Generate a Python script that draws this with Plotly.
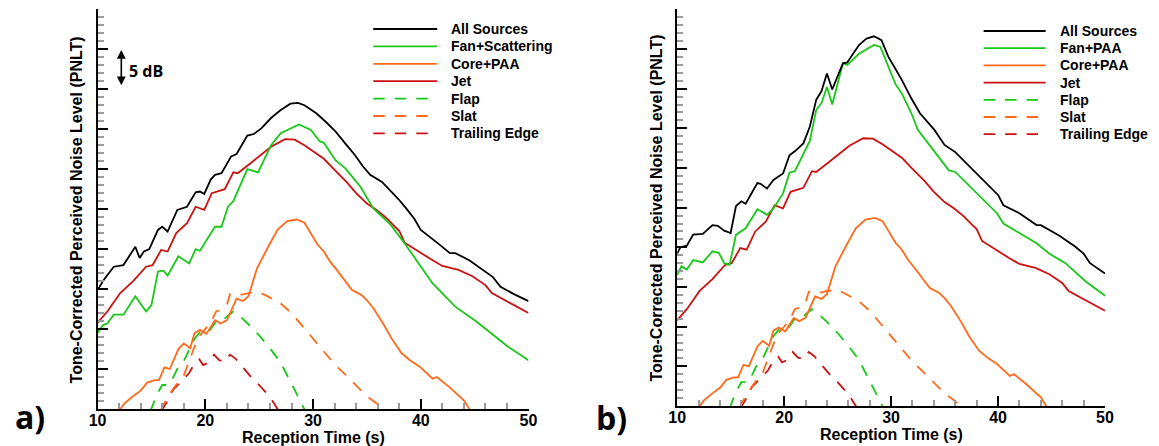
import plotly.graph_objects as go

W, H = 1159, 446

# ---------------- data (reception time [s], PNLT relative [dB]) ----------------
# Panel a) and b) shared components
t_jet = [10.0, 10.9, 12.1, 13.3, 14.5, 15.1, 15.9, 16.5, 17.3, 18.3, 19.1, 19.9, 20.6, 21.8, 22.6, 23.0, 24.2, 25.2, 26.1, 27.4,
         28.3, 29.2, 30.1, 31.0, 32.0, 33.1, 34.0, 35.0, 35.9, 36.8, 37.6, 38.0, 38.5, 40.0, 41.1, 42.0, 43.5, 44.8, 46.0, 46.6,
         48.3, 50.0]
pn_jet = [10.8, 12.2, 14.5, 16.0, 17.8, 18.0, 19.9, 19.7, 22.0, 23.25, 25.3, 24.9, 27.0, 27.5, 29.6, 29.5, 30.75, 31.8, 32.8, 33.75,
          33.7, 33.0, 32.2, 31.3, 29.9, 28.4, 27.0, 25.7, 24.9, 23.9, 22.8, 22.3, 20.8, 19.5, 18.6, 17.9, 17.4, 16.6, 15.5, 14.5,
          13.3, 12.0]

t_core = [12.0, 12.5, 13.2, 14.0, 14.6, 15.3, 15.7, 16.2, 16.7, 17.5, 18.0, 18.6, 19.0, 19.5, 20.1, 20.9, 21.4, 22.0, 22.9, 23.5,
          24.0, 24.8, 25.8, 26.7, 27.6, 28.5, 29.2, 30.4, 31.0, 31.6, 32.2, 33.0, 33.6, 34.5, 35.0, 35.6, 36.5, 37.3, 38.2, 39.0,
          39.9, 41.1, 41.5, 42.6, 44.0, 44.6]
pn_core = [-0.2, 0.7, 1.5, 2.3, 3.3, 3.6, 3.6, 5.2, 5.0, 7.5, 8.2, 7.6, 9.5, 9.9, 9.4, 11.1, 10.7, 11.1, 13.8, 13.5,
           14.1, 17.6, 20.2, 22.4, 23.5, 23.7, 23.3, 20.6, 19.7, 18.4, 17.4, 16.0, 14.9, 14.25, 13.6, 12.6, 10.7, 8.8, 7.0, 6.1,
           5.3, 3.8, 4.0, 2.8, 1.1, -0.2]

t_flap = [14.9, 15.5, 16.0, 16.6, 17.0, 17.5, 18.0, 18.5, 19.0, 19.5, 20.0, 20.5, 21.0, 21.5, 22.0, 22.6, 23.2, 24.0, 25.0, 26.0,
          27.0, 28.0, 28.5, 29.3]
pn_flap = [-0.3, 1.8, 3.0, 3.0, 3.9, 5.3, 6.0, 7.5, 8.8, 9.6, 9.4, 10.0, 11.0, 11.0, 11.5, 12.2, 11.6, 10.6, 9.2, 7.6,
           5.8, 3.2, 1.8, -0.3]

t_slat = [15.8, 16.3, 17.0, 17.5, 18.0, 18.5, 19.0, 19.5, 20.0, 20.5, 21.0, 21.5, 22.0, 22.3, 22.8, 23.4, 24.0, 24.8, 25.5, 26.2,
          27.0, 28.0, 29.0, 30.0, 31.0, 32.0, 33.0, 34.0, 35.0, 36.0, 36.6]
pn_slat = [-0.3, 1.0, 2.5, 3.3, 4.2, 6.0, 7.8, 9.2, 10.0, 10.8, 12.2, 12.4, 13.0, 14.4, 14.5, 14.3, 14.5, 14.6, 14.3, 13.8,
           13.2, 12.0, 10.4, 8.8, 7.1, 5.6, 4.3, 3.0, 1.6, 0.6, -0.2]

t_te = [15.9, 16.4, 17.0, 17.5, 18.0, 18.5, 19.0, 19.45, 19.8, 20.3, 20.8, 21.3, 21.8, 22.3, 22.8, 23.5, 24.0, 24.5, 25.0, 25.5,
        26.0, 26.8]
pn_te = [-0.3, 0.8, 2.4, 3.1, 3.8, 4.5, 5.7, 6.2, 5.5, 5.8, 6.8, 6.1, 5.9, 6.8, 6.3, 5.2, 4.4, 3.6, 3.0, 2.3,
         1.5, -0.2]

# Panel a) specific
t_all_a = [10.0, 10.6, 11.5, 12.4, 13.5, 13.9, 14.3, 14.8, 15.6, 16.0, 16.5, 17.4, 18.3, 19.1, 19.5, 19.9, 20.5, 20.9, 21.5, 22.4,
           22.9, 23.3, 23.9, 24.5, 25.2, 26.1, 27.0, 27.9, 28.6, 29.2, 30.3, 31.2, 32.1, 33.0, 33.9, 34.6, 35.3, 36.4, 37.1, 37.9,
           38.7, 39.4, 40.0, 40.9, 41.8, 42.7, 43.2, 44.5, 45.6, 46.7, 47.4, 48.6, 50.0]
pn_all_a = [14.9, 16.2, 17.8, 18.0, 20.3, 18.9, 19.7, 20.0, 22.4, 22.8, 22.2, 24.9, 25.3, 27.1, 27.2, 26.9, 28.7, 29.3, 29.5, 31.6,
            31.9, 32.8, 34.2, 34.4, 35.1, 36.4, 37.4, 38.2, 38.3, 38.0, 37.0, 35.9, 34.7, 33.2, 31.75, 30.4, 29.3, 28.4, 27.4, 26.3,
            25.0, 23.8, 22.4, 21.5, 20.5, 19.5, 19.5, 18.6, 17.6, 16.5, 15.3, 14.4, 13.5]

t_fan_a = [10.0, 10.5, 10.9, 11.5, 12.4, 13.5, 14.5, 15.0, 15.6, 16.1, 16.5, 17.5, 18.5, 19.1, 19.5, 20.2, 20.9, 21.5, 22.1, 22.6,
           23.9, 24.9, 26.1, 27.0, 27.9, 28.7, 29.8, 30.6, 31.0, 32.1, 33.0, 34.4, 35.6, 37.1, 38.3, 39.6, 41.1, 43.2, 45.0, 46.5,
           48.1, 50.0]
pn_fan_a = [9.5, 10.5, 10.7, 11.8, 11.8, 14.1, 12.2, 13.0, 17.2, 17.3, 16.7, 19.1, 18.2, 20.0, 19.8, 21.3, 22.8, 22.8, 25.3, 26.0,
            30.0, 29.6, 33.0, 34.5, 35.1, 35.6, 34.9, 33.5, 33.3, 31.1, 30.1, 27.8, 25.1, 23.2, 21.1, 18.6, 15.7, 12.8, 11.1, 9.5,
            7.8, 6.1]

# Panel b) specific
t_all_b = [10.0, 10.3, 10.9, 11.5, 12.4, 13.3, 13.8, 14.4, 15.0, 15.5, 16.0, 16.4, 17.5, 17.8, 18.4, 19.0, 19.9, 20.5, 21.0, 21.8,
           22.4, 23.0, 23.5, 24.0, 24.5, 25.5, 25.9, 27.0, 27.7, 28.4, 29.1, 29.75, 30.4, 31.0, 31.9, 32.7, 34.05, 35.0, 36.0, 37.4,
           39.0, 40.0, 40.5, 42.0, 43.6, 44.0, 45.7, 47.2, 48.0, 48.6, 50.0]
pn_all_b = [19.2, 20.0, 20.2, 21.6, 21.7, 22.8, 22.7, 22.1, 21.8, 25.2, 25.8, 25.5, 28.1, 28.0, 27.4, 28.5, 29.3, 31.6, 32.1, 33.1,
            35.2, 38.6, 39.7, 41.9, 39.9, 43.2, 43.3, 45.5, 46.3, 46.6, 46.1, 44.0, 42.5, 41.1, 38.75, 36.9, 34.8, 32.9, 32.0, 30.1,
            28.0, 26.6, 25.3, 24.3, 22.8, 22.8, 21.5, 20.1, 19.2, 18.0, 16.7]

t_fan_b = [10.0, 10.4, 10.9, 11.5, 12.4, 13.3, 13.9, 14.4, 14.9, 15.5, 16.4, 17.5, 18.4, 19.0, 19.9, 20.5, 21.0, 22.4, 23.0, 23.5,
           24.0, 24.5, 25.5, 25.9, 27.0, 28.4, 29.0, 29.75, 30.4, 31.0, 31.9, 32.5, 34.05, 35.4, 36.0, 38.0, 39.9, 40.5, 42.0, 43.6,
           44.8, 46.3, 48.2, 50.0]
pn_fan_b = [16.5, 17.6, 17.2, 18.4, 18.1, 19.5, 19.3, 18.0, 17.8, 21.6, 22.4, 24.8, 24.1, 24.9, 26.8, 29.4, 29.6, 33.4, 37.3, 38.2,
            40.2, 38.0, 43.2, 43.0, 44.4, 45.5, 45.25, 42.7, 40.6, 39.4, 36.9, 34.8, 32.0, 29.7, 29.5, 26.8, 24.3, 23.0, 21.8, 20.5,
            19.2, 18.0, 15.7, 13.9]

labels_a = ['All Sources', 'Fan+Scattering', 'Core+PAA', 'Jet', 'Flap', 'Slat', 'Trailing Edge']
labels_b = ['All Sources', 'Fan+PAA', 'Core+PAA', 'Jet', 'Flap', 'Slat', 'Trailing Edge']
x_ticks = [10, 20, 30, 40, 50]

# ---------------- styles ----------------
BLACK, GREEN, ORANGE, RED = '#000000', '#17c817', '#ff6a1a', '#cc1111'
DASH = '11.5px,10px'
LW = 1.8
FONT = 'Liberation Sans, Arial, sans-serif'
ALTFONT = 'Open Sans, Lato, sans-serif'


def fx(p):
    return p / W


def fy(p):
    return 1 - p / H


panels = [
    dict(xa='x', ya='y', labels=labels_a,
         series=[(t_all_a, pn_all_a), (t_fan_a, pn_fan_a), (t_core, pn_core), (t_jet, pn_jet),
                 (t_flap, pn_flap), (t_slat, pn_slat), (t_te, pn_te)],
         leg_x0=370, leg_x1=435, leg_tx=447, leg_y0=29, leg_dy=17.4),
    dict(xa='x2', ya='y2', labels=labels_b,
         series=[(t_all_b, pn_all_b), (t_fan_b, pn_fan_b), (t_core, pn_core), (t_jet, pn_jet),
                 (t_flap, pn_flap), (t_slat, pn_slat), (t_te, pn_te)],
         leg_x0=990, leg_x1=1053, leg_tx=1066, leg_y0=31, leg_dy=17.2),
]
colors = [BLACK, GREEN, ORANGE, RED, GREEN, ORANGE, RED]
dashes = ['solid', 'solid', 'solid', 'solid', DASH, DASH, DASH]
draw_order = [6, 5, 4, 2, 3, 1, 0]

fig = go.Figure()
shapes = []
annotations = []

for p in panels:
    for i in draw_order:
        t, v = p['series'][i]
        fig.add_trace(go.Scatter(
            x=t, y=v, mode='lines', name=p['labels'][i], showlegend=False,
            xaxis=p['xa'], yaxis=p['ya'],
            line=dict(color=colors[i], width=LW, dash=dashes[i]),
            hoverinfo='skip'))
    # legend drawn by hand (long line samples as in the original)
    for i, lab in enumerate(p['labels']):
        yy = p['leg_y0'] + i * p['leg_dy']
        shapes.append(dict(type='line', xref='paper', yref='paper',
                           x0=fx(p['leg_x0']), x1=fx(p['leg_x1']), y0=fy(yy), y1=fy(yy),
                           line=dict(color=colors[i], width=LW, dash=dashes[i])))
        annotations.append(dict(xref='paper', yref='paper', x=fx(p['leg_tx']), y=fy(yy),
                                xanchor='left', yanchor='middle', showarrow=False, text=lab,
                                font=dict(family=FONT, size=14, color='black', weight='bold')))

xcommon = dict(range=[10, 50], showline=True, linecolor='black', linewidth=2,
               ticks='inside', ticklen=10, tickwidth=2, tickcolor='black',
               tickmode='array', tickvals=x_ticks, ticktext=[str(v) for v in x_ticks],
               tickfont=dict(family=FONT, size=16, color='black', weight='bold'),
               ticklabelstandoff=-4,
               minor=dict(tick0=10, dtick=2, ticks='inside', ticklen=6, tickwidth=1.5, tickcolor='#9a9a9a'),
               showgrid=False, zeroline=False, fixedrange=True)
ycommon = dict(range=[0, 50], showline=True, linecolor='black', linewidth=2,
               ticks='inside', ticklen=10, tickwidth=2, tickcolor='black', tick0=0, dtick=5,
               showticklabels=False,
               minor=dict(tick0=0, dtick=1, ticks='inside', ticklen=6, tickwidth=1.5, tickcolor='#9a9a9a'),
               showgrid=False, zeroline=False, fixedrange=True)

# axis titles and panel labels
title_font = dict(family=FONT, size=16, color='black', weight='bold')
annotations += [
    dict(xref='paper', yref='paper', x=fx(309), y=fy(437), text='Reception Time (s)',
         showarrow=False, xanchor='center', yanchor='middle', font=title_font),
    dict(xref='paper', yref='paper', x=fx(896), y=fy(434), text='Reception Time (s)',
         showarrow=False, xanchor='center', yanchor='middle', font=title_font),
    dict(xref='paper', yref='paper', x=fx(68.5), y=fy(210), text='Tone-Corrected Perceived Noise Level (PNLT)',
         showarrow=False, xanchor='center', yanchor='middle', textangle=-90, font=title_font),
    dict(xref='paper', yref='paper', x=fx(656.7), y=fy(208), text='Tone-Corrected Perceived Noise Level (PNLT)',
         showarrow=False, xanchor='center', yanchor='middle', textangle=-90, font=title_font),
    dict(xref='paper', yref='paper', x=fx(21.5), y=fy(416), text='a)', showarrow=False,
         xanchor='center', yanchor='middle', font=dict(family=ALTFONT, size=32, color='black', weight='bold')),
    dict(xref='paper', yref='paper', x=fx(612.5), y=fy(417), text='b)', showarrow=False,
         xanchor='center', yanchor='middle', font=dict(family=ALTFONT, size=32, color='black', weight='bold')),
    # 5 dB scale arrow
    dict(xref='x', yref='y', axref='x', ayref='y', x=12.2, y=44.9, ax=12.2, ay=40.3, text='',
         showarrow=True, arrowhead=2, startarrowhead=2, arrowside='end+start',
         arrowsize=1.1, startarrowsize=1.1, arrowwidth=1.6, arrowcolor='black'),
    dict(xref='paper', yref='paper', x=fx(139), y=fy(71), text='5 dB', showarrow=False,
         xanchor='center', yanchor='middle', font=dict(family=ALTFONT, size=16, color='black', weight='bold')),
]

fig.update_layout(
    width=W, height=H,
    margin=dict(l=0, r=0, t=0, b=0),
    paper_bgcolor='white', plot_bgcolor='white',
    showlegend=False,
    xaxis=dict(xcommon, domain=[fx(90), fx(527.7)], anchor='y'),
    yaxis=dict(ycommon, domain=[1 - 409 / H, 1 - 9.3 / H], anchor='x'),
    xaxis2=dict(xcommon, domain=[fx(678.7), fx(1113.3)], anchor='y2'),
    yaxis2=dict(ycommon, domain=[1 - 406 / H, 1 - 9.3 / H], anchor='x2'),
    shapes=shapes,
    annotations=annotations,
)

fig.write_html('out.html')
